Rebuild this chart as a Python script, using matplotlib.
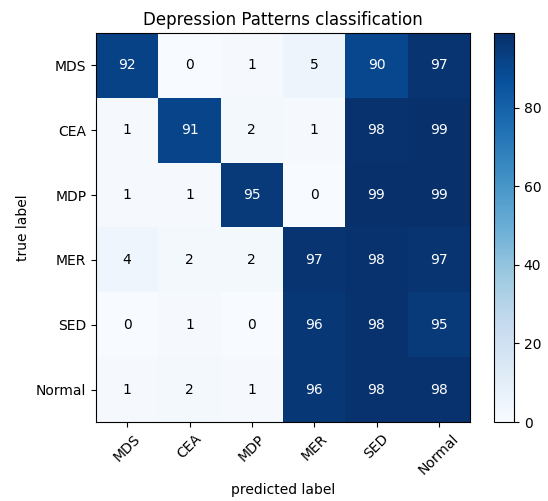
import matplotlib
matplotlib.use("Agg")
import matplotlib.pyplot as plt
import numpy as np

classes = ["MDS", "CEA", "MDP", "MER", "SED", "Normal"]
row_MDS = [92, 0, 1, 5, 90, 97]
row_CEA = [1, 91, 2, 1, 98, 99]
row_MDP = [1, 1, 95, 0, 99, 99]
row_MER = [4, 2, 2, 97, 98, 97]
row_SED = [0, 1, 0, 96, 98, 95]
row_Normal = [1, 2, 1, 96, 98, 98]
cm = np.array([row_MDS, row_CEA, row_MDP, row_MER, row_SED, row_Normal])

W, H = 548, 501
fig = plt.figure(figsize=(W / 100, H / 100), dpi=100)
ax = fig.add_axes([96 / W, 1 - 422 / H, 374 / W, 389 / H])
im = ax.imshow(cm, interpolation="nearest", cmap=plt.cm.Blues, aspect="auto")
ax.set_title("Depression Patterns classification")
cax = fig.add_axes([494 / W, 1 - 422 / H, 20 / W, 389 / H])
fig.colorbar(im, cax=cax)

ticks = np.arange(len(classes))
ax.set_xticks(ticks)
ax.set_xticklabels(classes, rotation=45)
ax.set_yticks(ticks)
ax.set_yticklabels(classes)

thresh = cm.max() / 2.0
for i in range(cm.shape[0]):
    for j in range(cm.shape[1]):
        ax.text(j, i, format(cm[i, j], "d"), ha="center", va="center",
                color="white" if cm[i, j] > thresh else "black")

ax.set_ylabel("true label")
ax.set_xlabel("predicted label")

fig.savefig("out.png", dpi=100)
